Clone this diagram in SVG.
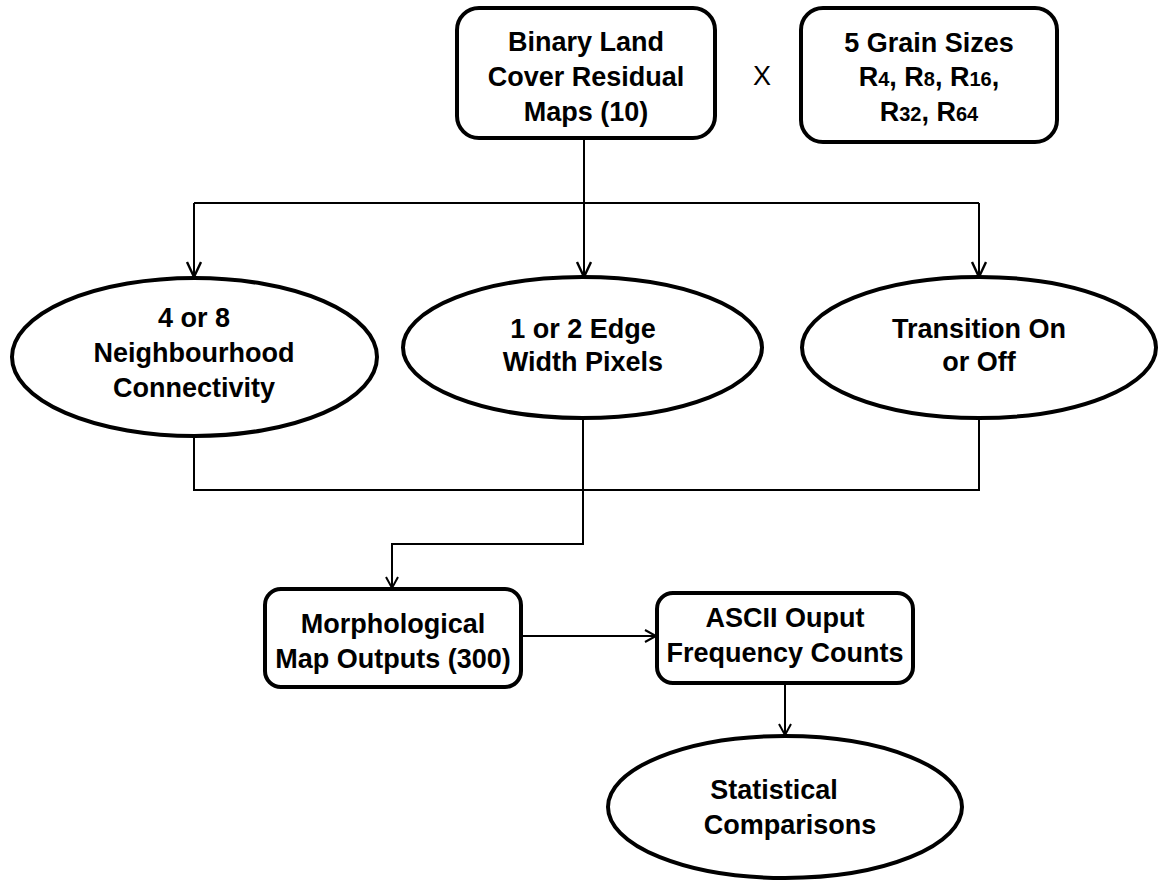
<svg xmlns="http://www.w3.org/2000/svg" width="1160" height="883" viewBox="0 0 1160 883">
  <defs>
    <style>
      .box { fill: #fff; stroke: #000; stroke-width: 4; }
      .t { font-family: "Liberation Sans", Arial, sans-serif; font-weight: bold; font-size: 27px; fill: #000; text-anchor: middle; }
      .sub { font-size: 20px; }
      .x { font-family: "Liberation Sans", Arial, sans-serif; font-size: 27px; fill: #000; text-anchor: middle; }
      .c { fill: none; stroke: #000; stroke-width: 2; }
    </style>
    <marker id="ah" markerWidth="20" markerHeight="20" refX="16" refY="8" orient="auto" markerUnits="userSpaceOnUse">
      <path d="M1,1 L16,8 L1,15" fill="none" stroke="#000" stroke-width="2.4"/>
    </marker>
    <marker id="ahs" markerWidth="16" markerHeight="16" refX="12" refY="7" orient="auto" markerUnits="userSpaceOnUse">
      <path d="M1,1 L12,7 L1,13" fill="none" stroke="#000" stroke-width="2"/>
    </marker>
  </defs>

  <g id="connectors">
    <path class="c" d="M584,138 V203"/>
    <path class="c" d="M194,203 H979"/>
    <path class="c" d="M194,203 V277" marker-end="url(#ah)"/>
    <path class="c" d="M584,203 V277" marker-end="url(#ah)"/>
    <path class="c" d="M979,203 V277" marker-end="url(#ah)"/>
    <path class="c" d="M194,436 V490 H979 V418"/>
    <path class="c" d="M583,418 V544 H392 V588" marker-end="url(#ahs)"/>
    <path class="c" d="M521,636 H656" marker-end="url(#ahs)"/>
    <path class="c" d="M785,683 V735" marker-end="url(#ahs)"/>
  </g>

  <g id="binary-land-cover">
    <rect class="box" x="457" y="8" width="258" height="130" rx="22"/>
    <text class="t" x="586" y="51">Binary Land</text>
    <text class="t" x="586" y="86">Cover Residual</text>
    <text class="t" x="586" y="121">Maps (10)</text>
  </g>

  <g id="times">
    <text class="x" x="762" y="85">X</text>
  </g>

  <g id="grain-sizes">
    <rect class="box" x="801" y="8" width="256" height="134" rx="22"/>
    <text class="t" x="929" y="52">5 Grain Sizes</text>
    <text class="t" x="929" y="86">R<tspan class="sub">4</tspan>, R<tspan class="sub">8</tspan>, R<tspan class="sub">16</tspan>,</text>
    <text class="t" x="929" y="121">R<tspan class="sub">32</tspan>, R<tspan class="sub">64</tspan></text>
  </g>

  <g id="neighbourhood">
    <ellipse class="box" cx="194.5" cy="357" rx="182.5" ry="79"/>
    <text class="t" x="194" y="327">4 or 8</text>
    <text class="t" x="194" y="362">Neighbourhood</text>
    <text class="t" x="194" y="397">Connectivity</text>
  </g>

  <g id="edge-width">
    <ellipse class="box" cx="582.5" cy="347.5" rx="179.5" ry="70.5"/>
    <text class="t" x="583" y="338">1 or 2 Edge</text>
    <text class="t" x="583" y="371">Width Pixels</text>
  </g>

  <g id="transition">
    <ellipse class="box" cx="979" cy="347.5" rx="177" ry="70.5"/>
    <text class="t" x="979" y="338">Transition On</text>
    <text class="t" x="979" y="371">or Off</text>
  </g>

  <g id="morphological">
    <rect class="box" x="265" y="589" width="256" height="98" rx="16"/>
    <text class="t" x="393" y="633">Morphological</text>
    <text class="t" x="393" y="668">Map Outputs (300)</text>
  </g>

  <g id="ascii">
    <rect class="box" x="657" y="593" width="256" height="90" rx="16"/>
    <text class="t" x="785" y="627">ASCII Ouput</text>
    <text class="t" x="785" y="662">Frequency Counts</text>
  </g>

  <g id="statistical">
    <ellipse class="box" cx="785" cy="807" rx="177" ry="71"/>
    <text class="t" x="774" y="799">Statistical</text>
    <text class="t" x="790" y="834">Comparisons</text>
  </g>
</svg>
